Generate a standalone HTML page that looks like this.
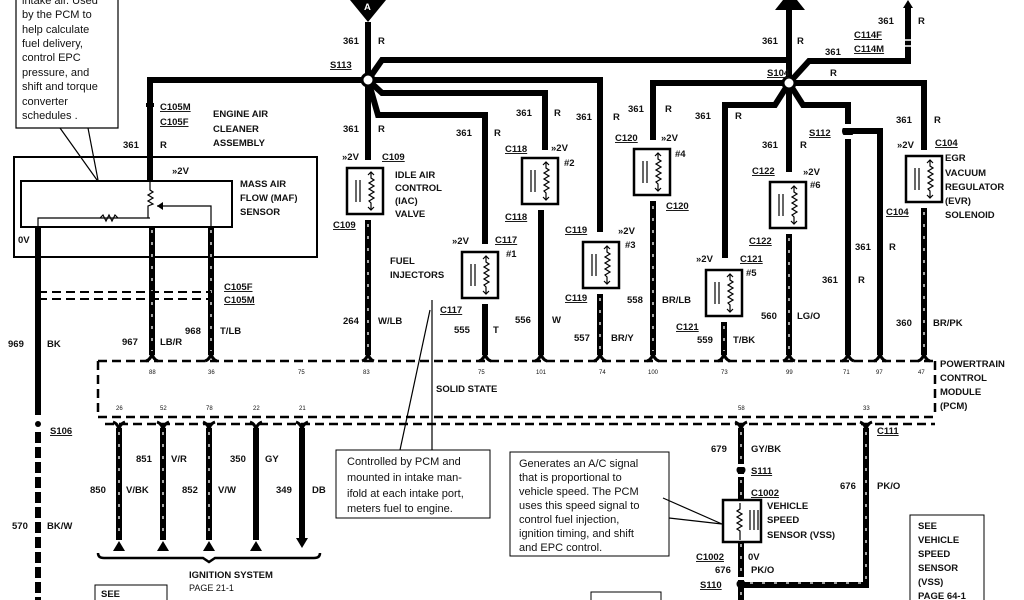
<!DOCTYPE html>
<html><head><meta charset="utf-8"><style>
html,body{margin:0;padding:0;background:#fff}
svg{display:block}
text{font-family:"Liberation Sans",sans-serif;font-weight:bold;font-size:9.5px;fill:#111}
.n{font-weight:normal;font-size:11px}
.s{font-weight:normal;font-size:6px}
.u{text-decoration:underline}
.w{stroke:#000;stroke-width:6;fill:none}
.st{stroke:#fff;stroke-width:1.3;stroke-dasharray:3 9;fill:none}
.t{stroke:#000;stroke-width:1.2;fill:none}
.d{stroke:#000;stroke-width:2.5;stroke-dasharray:9 5;fill:none}
</style></head><body>
<svg width="1024" height="600" viewBox="0 0 1024 600" xmlns="http://www.w3.org/2000/svg">
<defs>
<g id="comp">
<rect x="0" y="0" width="36" height="46" fill="#fff" stroke="#000" stroke-width="2.5"/>
<path d="M9 12V34M13 12V34" class="t"/>
<path d="M24 4V10l3 2-5 3 5 3-5 3 5 3-5 3 5 3-5 3 2 2V42" class="t"/>
<path d="M21 7l3-3 3 3M21 39l3 3 3-3" class="t"/>
</g>
<g id="cy"><path d="M-6 -6Q0 -4 0 4Q0 -4 6 -6" stroke="#000" stroke-width="3" fill="none"/></g>
<g id="cn"><path d="M-6 6Q0 4 0 -4Q0 4 6 6" stroke="#000" stroke-width="3" fill="none"/></g>
</defs>

<path d="M16 0V128H118V0" class="t"/>
<path d="M60 128L97 180M88 128L98 180" class="t"/>
<text class="n" x="22" y="4">intake air.  Used</text>
<text class="n" x="22" y="18">by the PCM to</text>
<text class="n" x="22" y="33">help calculate</text>
<text class="n" x="22" y="47">fuel delivery,</text>
<text class="n" x="22" y="61">control EPC</text>
<text class="n" x="22" y="76">pressure,  and</text>
<text class="n" x="22" y="90">shift and torque</text>
<text class="n" x="22" y="105">converter</text>
<text class="n" x="22" y="119">schedules .</text>

<rect x="14" y="157" width="303" height="100" fill="none" stroke="#000" stroke-width="2"/>
<rect x="21" y="181" width="211" height="46" fill="#fff" stroke="#000" stroke-width="2"/>
<path class="w" d="M150 181V80H368"/>
<path d="M150 181V190l3 2-5 3 5 3-5 3 5 3-5 2V218" class="t"/>
<path d="M157 206H211V227M150 218H38V227M100 218l3-3 3 6 3-6 3 6 3-6 3 3" class="t"/>
<path d="M157 206l6-4v8z" fill="#000"/>
<text x="172" y="174" font-size="8">»2V</text>
<text x="18" y="243" font-size="8">0V</text>
<text x="160" y="110" class="u">C105M</text><text x="160" y="125" class="u">C105F</text>
<text x="213" y="117">ENGINE  AIR</text><text x="213" y="132">CLEANER</text><text x="213" y="146">ASSEMBLY</text>
<text x="123" y="148">361</text><text x="160" y="148">R</text>
<text x="240" y="187">MASS  AIR</text><text x="240" y="201">FLOW (MAF)</text><text x="240" y="215">SENSOR</text>
<path d="M146 105h8" stroke="#000" stroke-width="4"/>

<path class="w" d="M38 227V415"/>
<path class="w" d="M38 432V600" stroke-dasharray="11 4"/>
<circle cx="38" cy="424" r="3"/>
<path class="w" d="M152 227V355M211 227V355"/>
<path class="st" d="M152 230V355M211 230V355"/>
<path d="M38 292H211M38 299H211" stroke="#000" stroke-width="2" stroke-dasharray="9 5"/>
<text x="224" y="290" class="u">C105F</text><text x="224" y="303" class="u">C105M</text>
<text x="8" y="347">969</text><text x="47" y="347">BK</text>
<text x="122" y="345">967</text><text x="160" y="345">LB/R</text>
<text x="185" y="334">968</text><text x="220" y="334">T/LB</text>
<text x="50" y="434" class="u">S106</text>
<text x="12" y="529">570</text><text x="47" y="529">BK/W</text>

<path d="M350 0H386L368 22Z" fill="#000"/><text x="364" y="10" style="fill:#fff">A</text>
<path d="M775 10H805L797 0H783Z" fill="#000"/>
<path d="M908 0l-5 8h10z" fill="#000"/>

<path class="w" d="M368 22V160"/>
<path class="w" d="M368 80l14-20H788"/>
<path class="w" d="M368 80H600V232"/>
<path class="w" d="M368 80l14 13H545V150"/>
<path class="w" d="M368 80l10 35H485V244"/>
<circle cx="368" cy="80" r="6" fill="#fff" stroke="#000" stroke-width="3"/>
<text x="343" y="44">361</text><text x="378" y="44">R</text>
<text x="330" y="68" class="u">S113</text>
<text x="343" y="132">361</text><text x="378" y="132">R</text>
<text x="456" y="136">361</text><text x="494" y="136">R</text>
<text x="516" y="116">361</text><text x="554" y="116">R</text>
<text x="576" y="120">361</text><text x="613" y="120">R</text>
<text x="628" y="112">361</text><text x="665" y="112">R</text>

<path class="w" d="M789 10V172"/>
<path class="w" d="M653 140V83H789"/>
<path class="w" d="M789 83l-14 22H725V258"/>
<path class="w" d="M789 83l14 22H848V355"/>
<path class="w" d="M848 131H880V355"/>
<path class="w" d="M789 83l20-22H908V6"/>
<path class="w" d="M789 83H924V150"/>
<circle cx="789" cy="83" r="6" fill="#fff" stroke="#000" stroke-width="3"/>
<circle cx="848" cy="131" r="6" fill="#000"/>
<rect x="843" y="124" width="10" height="4" fill="#fff"/><rect x="843" y="135" width="10" height="4" fill="#fff"/>
<path d="M903 40h10M903 46h10" stroke="#fff" stroke-width="1.5"/>
<text x="762" y="44">361</text><text x="797" y="44">R</text>
<text x="767" y="76" class="u">S104</text>
<text x="825" y="55">361</text><text x="830" y="76">R</text>
<text x="878" y="24">361</text><text x="918" y="24">R</text>
<text x="854" y="38" class="u">C114F</text><text x="854" y="52" class="u">C114M</text>
<text x="695" y="119">361</text><text x="735" y="119">R</text>
<text x="762" y="148">361</text><text x="800" y="148">R</text>
<text x="809" y="136" class="u">S112</text>
<text x="896" y="123">361</text><text x="934" y="123">R</text>
<text x="855" y="250">361</text><text x="889" y="250">R</text>
<text x="822" y="283">361</text><text x="858" y="283">R</text>

<use href="#comp" x="347" y="168"/>
<use href="#comp" x="462" y="252"/>
<use href="#comp" x="522" y="158"/>
<use href="#comp" x="583" y="242"/>
<use href="#comp" x="634" y="149"/>
<use href="#comp" x="706" y="270"/>
<use href="#comp" x="770" y="182"/>
<use href="#comp" x="906" y="156"/>

<text x="342" y="160" font-size="8">»2V</text><text x="382" y="160" class="u">C109</text>
<text x="395" y="178">IDLE AIR</text><text x="395" y="191">CONTROL</text><text x="395" y="204">(IAC)</text><text x="395" y="217">VALVE</text>
<text x="333" y="228" class="u">C109</text>
<text x="452" y="244" font-size="8">»2V</text><text x="495" y="243" class="u">C117</text><text x="506" y="257">#1</text>
<text x="390" y="264">FUEL</text><text x="390" y="278">INJECTORS</text>
<text x="440" y="313" class="u">C117</text>
<text x="505" y="152" class="u">C118</text><text x="551" y="151" font-size="8">»2V</text><text x="564" y="166">#2</text>
<text x="505" y="220" class="u">C118</text>
<text x="565" y="233" class="u">C119</text><text x="618" y="234" font-size="8">»2V</text><text x="625" y="248">#3</text>
<text x="565" y="301" class="u">C119</text>
<text x="615" y="141" class="u">C120</text><text x="661" y="141" font-size="8">»2V</text><text x="675" y="157">#4</text>
<text x="666" y="209" class="u">C120</text>
<text x="696" y="262" font-size="8">»2V</text><text x="740" y="262" class="u">C121</text><text x="746" y="276">#5</text>
<text x="676" y="330" class="u">C121</text>
<text x="752" y="174" class="u">C122</text><text x="803" y="175" font-size="8">»2V</text><text x="810" y="188">#6</text>
<text x="749" y="244" class="u">C122</text>
<text x="897" y="148" font-size="8">»2V</text><text x="935" y="146" class="u">C104</text>
<text x="945" y="161">EGR</text><text x="945" y="176">VACUUM</text><text x="945" y="190">REGULATOR</text><text x="945" y="204">(EVR)</text><text x="945" y="218">SOLENOID</text>
<text x="886" y="215" class="u">C104</text>

<path class="w" d="M368 220V355M485 304V355M541 210V355M600 294V355M653 201V355M724 322V355M789 234V355M924 208V355"/>
<path class="st" d="M368 224V352M600 298V352M653 206V352M789 238V352M924 212V352M724 326V352"/>
<use href="#cn" x="152" y="355"/><use href="#cn" x="211" y="355"/><use href="#cn" x="368" y="355"/>
<use href="#cn" x="485" y="355"/><use href="#cn" x="541" y="355"/><use href="#cn" x="600" y="355"/>
<use href="#cn" x="653" y="355"/><use href="#cn" x="724" y="355"/><use href="#cn" x="789" y="355"/>
<use href="#cn" x="848" y="355"/><use href="#cn" x="880" y="355"/><use href="#cn" x="924" y="355"/>
<text x="343" y="324">264</text><text x="378" y="324">W/LB</text>
<text x="454" y="333">555</text><text x="493" y="333">T</text>
<text x="515" y="323">556</text><text x="552" y="323">W</text>
<text x="574" y="341">557</text><text x="611" y="341">BR/Y</text>
<text x="627" y="303">558</text><text x="662" y="303">BR/LB</text>
<text x="697" y="343">559</text><text x="733" y="343">T/BK</text>
<text x="761" y="319">560</text><text x="797" y="319">LG/O</text>
<text x="896" y="326">360</text><text x="933" y="326">BR/PK</text>

<path class="d" d="M98 361H935M98 417H935M935 361V417M98 361V417"/>
<path class="d" d="M105 424H935"/>
<text class="s" x="149" y="374">88</text><text class="s" x="208" y="374">36</text><text class="s" x="298" y="374">75</text>
<text class="s" x="363" y="374">83</text><text class="s" x="478" y="374">75</text><text class="s" x="536" y="374">101</text>
<text class="s" x="599" y="374">74</text><text class="s" x="648" y="374">100</text><text class="s" x="721" y="374">73</text>
<text class="s" x="786" y="374">99</text><text class="s" x="843" y="374">71</text><text class="s" x="876" y="374">97</text>
<text class="s" x="918" y="374">47</text>
<text class="s" x="116" y="410">26</text><text class="s" x="160" y="410">52</text><text class="s" x="206" y="410">78</text>
<text class="s" x="253" y="410">22</text><text class="s" x="299" y="410">21</text><text class="s" x="738" y="410">58</text>
<text class="s" x="863" y="410">33</text>
<text x="436" y="392">SOLID STATE</text>
<text x="940" y="367">POWERTRAIN</text><text x="940" y="381">CONTROL</text><text x="940" y="395">MODULE</text><text x="940" y="409">(PCM)</text>
<text x="877" y="434" class="u">C111</text>

<path d="M432 300V450M430 310L400 450" class="t" stroke-width="1"/>
<rect x="336" y="450" width="154" height="68" fill="#fff" stroke="#000" stroke-width="1"/>
<text class="n" x="347" y="465">Controlled by PCM and</text>
<text class="n" x="347" y="481">mounted in intake man-</text>
<text class="n" x="347" y="497">ifold at each intake port,</text>
<text class="n" x="347" y="512">meters fuel to engine.</text>

<path class="w" d="M119 428V540M163 428V540M209 428V540M256 428V540M302 428V540"/>
<path class="st" d="M119 432V538M163 432V538M209 432V538"/>
<use href="#cy" x="119" y="428"/><use href="#cy" x="163" y="428"/><use href="#cy" x="209" y="428"/><use href="#cy" x="256" y="428"/><use href="#cy" x="302" y="428"/>
<path d="M113 551l6-10 6 10zM157 551l6-10 6 10zM203 551l6-10 6 10zM250 551l6-10 6 10zM296 538l6 10 6-10z" fill="#000"/>
<path d="M98 553Q98 558 104 558H203l6 4 6-4H314Q320 558 320 553" fill="none" stroke="#000" stroke-width="2.5"/>
<text x="90" y="493">850</text><text x="126" y="493">V/BK</text>
<text x="136" y="462">851</text><text x="171" y="462">V/R</text>
<text x="182" y="493">852</text><text x="218" y="493">V/W</text>
<text x="230" y="462">350</text><text x="265" y="462">GY</text>
<text x="276" y="493">349</text><text x="312" y="493">DB</text>
<text x="189" y="578">IGNITION  SYSTEM</text>
<text x="189" y="591" class="n" style="font-size:9px">PAGE 21-1</text>
<rect x="95" y="585" width="72" height="20" fill="none" stroke="#000" stroke-width="1"/>
<text x="101" y="597">SEE</text>

<path class="w" d="M741 428V500M741 540V600M866 428V585H741"/>
<path class="st" d="M741 432V498M741 544V598M866 432V583H745"/>
<use href="#cy" x="741" y="428"/><use href="#cy" x="866" y="428"/>
<circle cx="741" cy="470" r="4.5"/><rect x="735" y="464" width="12" height="3" fill="#fff"/><rect x="735" y="474" width="12" height="3" fill="#fff"/>
<circle cx="741" cy="584" r="4.5"/><rect x="735" y="577" width="12" height="3" fill="#fff"/>
<rect x="723" y="500" width="38" height="42" fill="#fff" stroke="#000" stroke-width="2.5"/>
<path d="M740 503V509l-3 2 5 3-5 3 5 3-5 3 5 3-5 3 3 2V540M750 510V530M754 510V530M758 510V530" class="t"/>
<text x="711" y="452">679</text><text x="751" y="452">GY/BK</text>
<text x="751" y="474" class="u">S111</text>
<text x="751" y="496" class="u">C1002</text>
<text x="767" y="509">VEHICLE</text><text x="767" y="523">SPEED</text><text x="767" y="538">SENSOR  (VSS)</text>
<text x="696" y="560" class="u">C1002</text><text x="748" y="560" font-size="8">0V</text>
<text x="715" y="573">676</text><text x="751" y="573">PK/O</text>
<text x="700" y="588" class="u">S110</text>
<text x="840" y="489">676</text><text x="877" y="489">PK/O</text>
<rect x="510" y="452" width="159" height="104" fill="#fff" stroke="#000" stroke-width="1"/>
<path d="M663 498L722 524M669 518L722 524" class="t" stroke-width="1"/>
<text class="n" x="519" y="467">Generates an A/C signal</text>
<text class="n" x="519" y="481">that is proportional to</text>
<text class="n" x="519" y="495">vehicle speed. The PCM</text>
<text class="n" x="519" y="509">uses this speed signal to</text>
<text class="n" x="519" y="523">control fuel injection,</text>
<text class="n" x="519" y="537">ignition timing, and shift</text>
<text class="n" x="519" y="551">and EPC control.</text>
<rect x="591" y="592" width="70" height="20" fill="none" stroke="#000" stroke-width="1"/>
<rect x="910" y="515" width="74" height="95" fill="none" stroke="#000" stroke-width="1"/>
<text x="918" y="529">SEE</text><text x="918" y="543">VEHICLE</text><text x="918" y="557">SPEED</text><text x="918" y="571">SENSOR</text><text x="918" y="585">(VSS)</text><text x="918" y="599" font-weight="normal">PAGE 64-1</text>
</svg>
</body></html>
